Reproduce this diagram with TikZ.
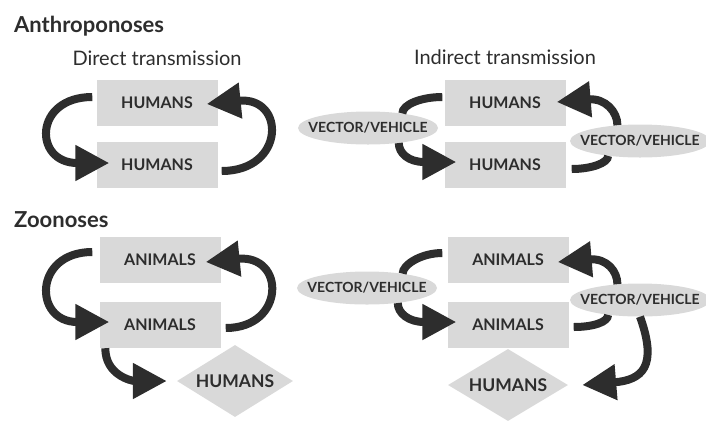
\documentclass[tikz,border=0pt]{standalone}
\usepackage{fontspec}
\setmainfont{Lato}
\usetikzlibrary{shapes.geometric,arrows.meta}
\definecolor{boxgray}{RGB}{217,217,217}
\definecolor{inkgray}{RGB}{45,45,45}
\newcommand{\vehicletext}{\makebox[0pt]{VECTOR/VEHICLE}}
\newcommand{\hosttext}{\makebox[0pt]{HUMANS}}
\tikzset{
  box/.style={fill=boxgray, minimum width=121pt, minimum height=46pt, inner sep=0pt, text=inkgray, font=\bfseries\fontsize{16}{16}\selectfont},
  vehicle/.style={ellipse, fill=boxgray, minimum width=140pt, minimum height=33pt, inner sep=0pt, text=inkgray, font=\bfseries\fontsize{14}{14}\selectfont},
  host/.style={diamond, fill=boxgray, minimum width=116pt, minimum height=72pt, inner sep=0pt, text=inkgray, font=\bfseries\fontsize{17.5}{17.5}\selectfont},
  heading/.style={anchor=base west, inner sep=0pt, text=inkgray, font=\bfseries\fontsize{22}{22}\selectfont},
  caption/.style={anchor=base, inner sep=0pt, text=inkgray, font=\fontsize{20}{20}\selectfont},
  flow/.style={draw=inkgray, line width=8pt, -{Triangle[length=34pt,width=34pt]}},
  link/.style={draw=inkgray, line width=8pt}
}
\begin{document}
\begin{tikzpicture}[x=1pt,y=-1pt]
\useasboundingbox (0,0) rectangle (706,421);
\node[heading] (t1) at (14,32) {Anthroponoses};
\node[caption] (t2) at (157,65) {Direct transmission};
\node[caption] (t3) at (505,64) {Indirect transmission};
\node[heading] (t4) at (14,227) {Zoonoses};
\node[box] (h1) at (157,103) {HUMANS};
\node[box] (h2) at (157,165) {HUMANS};
\node[box] (h3) at (505,103) {HUMANS};
\node[box] (h4) at (505,165) {HUMANS};
\node[vehicle] (v1) at (368,128) {\vehicletext};
\node[vehicle] (v2) at (640,141) {\vehicletext};
\node[box] (a1) at (160,260) {ANIMALS};
\node[box] (a2) at (160,325) {ANIMALS};
\node[box] (a3) at (508,260) {ANIMALS};
\node[box] (a4) at (508,325) {ANIMALS};
\node[vehicle] (v3) at (367,288) {\vehicletext};
\node[vehicle] (v4) at (640,300) {\vehicletext};
\node[host] (d1) at (235,381) {\hosttext};
\node[host, minimum width=120pt] (d2) at (508,385) {\hosttext};
\path[flow] ([xshift=-4pt,yshift=6pt]h1.west) .. controls +(-59,0) and +(-76,0) .. ([xshift=13pt,yshift=2pt]h2.west);
\path[flow] ([xshift=4pt,yshift=-6pt]h2.east) .. controls +(64,0) and +(79,-8) .. ([xshift=-11pt,yshift=-1pt]h1.east);
\path[link] ([xshift=-2pt,yshift=6pt]h3.west) .. controls +(-21,0) and +(0,-9) .. (v1.23);
\path[flow] (v1.334) .. controls +(0,10) and +(-48,0) .. ([xshift=12pt,yshift=3pt]h4.west);
\path[link] ([xshift=6pt,yshift=-4pt]h4.east) .. controls +(20,0) and +(0,7) .. (v2.205);
\path[flow] (v2.145) .. controls +(0,-13) and +(49,-4) .. ([xshift=-9pt,yshift=1pt]h3.east);
\path[flow] ([xshift=-7pt,yshift=8pt]a1.west) .. controls +(-59,0) and +(-76,0) .. ([xshift=10pt,yshift=3pt]a2.west);
\path[flow] ([xshift=5pt,yshift=-3pt]a2.east) .. controls +(60,0) and +(80,-8) .. ([xshift=-15pt,yshift=-2pt]a1.east);
\path[flow] ([xshift=6pt]a2.south west) .. controls +(0,27) and +(-35,0) .. ([xshift=-10pt]d1.west);
\path[link] ([xshift=-5pt,yshift=7pt]a3.west) .. controls +(-21,0) and +(0,-9) .. (v3.22);
\path[flow] (v3.334) .. controls +(0,10) and +(-48,0) .. ([xshift=9pt,yshift=3pt]a4.west);
\path[link] ([xshift=5pt,yshift=-2pt]a4.east) .. controls +(20,0) and +(0,7) .. (v4.205);
\path[flow] (v4.145) .. controls +(0,-13) and +(49,-4) .. ([xshift=-11pt,yshift=-2pt]a3.east);
\path[flow] (v4.south) .. controls +(18,50) and +(60,-5) .. ([xshift=14pt]d2.east);
\end{tikzpicture}
\end{document}
